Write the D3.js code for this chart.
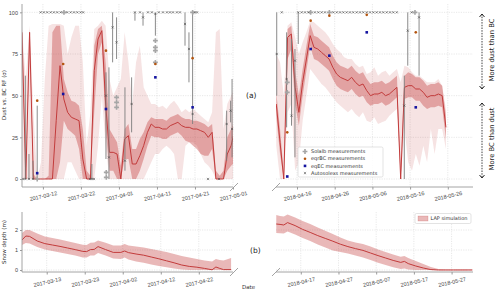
<!DOCTYPE html>
<html>
<head>
<meta charset="utf-8">
<script src="https://cdn.jsdelivr.net/npm/d3@7"></script>
<style>
  body { margin: 0; background: #fff; }
  svg { font-family: "DejaVu Sans", sans-serif; }
  .grid { stroke: #d9d9d9; stroke-width: 0.6; stroke-dasharray: 1.2,1.2; }
  .spine { stroke: #9a9a9a; stroke-width: 0.9; }
  .tick line { stroke: #9a9a9a; }
  .tick text { fill: #444; font-size: 5.5px; }
</style>
</head>
<body>
<svg id="chart" width="500" height="294"></svg>
<script>
// ---- data: LAP simulation, dust vs BC RF (sigma) ----
// 2017: one value per day, 2017-03-06 .. 2017-05-01 (noon)
const leftMedian = [88,0,88,0,0,0,0,0,0,35,68,48,40,37,36,35,12,0,0,65,84,89,45,16,16,15,0,24,26,9,9,14,20,28,33,31,31,30,30,32,33,34,32,31,31,30,30,29,28,25,28,0,0,0,15,20,30];
const leftInnerLo = [75,0,78,0,0,0,0,0,0,0,10,35,30,28,26,18,0,0,0,40,75,82,30,5,5,0,0,12,12,0,0,5,12,20,26,25,25,24,24,26,27,28,26,23,22,20,18,15,14,14,18,0,0,0,5,8,10];
const leftInnerHi = [92,4,90,3,0,0,0,2,88,92,92,60,52,47,46,44,30,5,2,80,90,92,70,30,26,22,8,30,33,18,18,24,28,34,37,36,36,36,35,37,38,39,37,36,36,35,35,34,33,31,33,5,2,5,25,30,35];
const leftOuterLo = [0,0,0,0,0,0,0,0,0,0,0,0,10,10,5,0,0,0,0,0,20,50,20,0,0,0,0,0,0,0,0,0,0,5,10,15,15,18,20,18,15,0,0,20,22,22,20,15,10,8,5,0,0,0,0,0,0];
const leftOuterHi = [90,60,92,40,0,10,60,92,93,93,93,92,75,85,92,92,70,20,40,90,92,95,92,60,50,55,60,88,70,45,70,80,55,50,45,45,43,44,42,45,47,44,40,42,40,42,40,38,36,34,40,88,90,30,45,50,55];

// 2018: one value per day, 2018-04-10 .. 2018-05-25 (noon)
const rightMedian = [45,22,0,85,87,55,40,58,72,86, 79,78,76,74,72,67,63,61,60,59, 61,58,56,57,53,50,51,51,52,50, 51,53,55,0,55,56,56,54,54,52, 49,50,50,51,50,31];
const rightInnerLo = [38,15,0,72,78,45,32,50,65,80, 72,71,69,67,65,60,56,54,53,52, 54,51,49,50,46,44,45,45,46,44, 45,47,49,0,48,49,49,47,47,44, 42,43,43,44,43,24];
const rightInnerHi = [52,30,3,90,92,65,50,66,80,93, 86,85,83,81,79,74,70,68,67,66, 68,65,63,64,60,57,58,58,59,57, 58,60,62,3,62,64,63,61,61,59, 56,57,57,58,56,38];
const rightOuterLo = [20,0,0,40,45,5,10,35,50,66, 63,60,57,55,52,49,46,44,42,40, 42,39,37,40,35,34,37,33,34,35, 38,40,42,0,30,10,5,15,8,20, 10,30,15,30,30,18];
const rightOuterHi = [75,70,50,92,94,85,75,82,88,95, 94,92,90,88,85,81,78,76,73,72, 72,69,67,68,63,64,67,62,64,65, 62,64,66,58,68,67,64,62,62,60, 58,58,58,60,56,42];

// measurements: [time, value, errLo, errHi]
const leftAuto = [
  ['2017-03-06 18:00',0],['2017-03-07 09:00',0,0,62],['2017-03-08 08:00',0,0,15],['2017-03-09 09:00',0,0,11],
  ['2017-03-11 10:00',100],['2017-03-12 06:00',100],['2017-03-13 03:00',100],['2017-03-14 01:00',100],
  ['2017-03-14 21:00',100],['2017-03-15 18:00',100],['2017-03-16 16:00',100],['2017-03-18 09:00',100],
  ['2017-03-19 07:00',100],['2017-03-20 04:00',100],['2017-03-21 01:00',100],['2017-03-21 22:00',100],
  ['2017-03-22 14:00',100],['2017-03-24 09:00',0],['2017-03-24 21:00',0,0,9],['2017-03-25 10:00',0],
  ['2017-03-28 14:00',50,12,64],['2017-03-29 09:00',13,0,67],['2017-03-30 08:00',91,70,100],
  ['2017-03-31 09:00',82,72,97],['2017-04-02 14:00',11,5,55],['2017-04-04 08:00',45,28,61],
  ['2017-04-05 05:00',100,95,100],['2017-04-06 13:00',100],['2017-04-07 08:00',97,92,100],
  ['2017-04-08 15:00',100],['2017-04-09 16:00',100],['2017-04-10 14:00',99,86,100],['2017-04-11 12:00',100],
  ['2017-04-12 14:00',100],['2017-04-13 15:00',100],['2017-04-14 10:00',100],['2017-04-15 05:00',100],
  ['2017-04-16 06:00',100],['2017-04-17 01:00',100],['2017-04-18 09:00',93,80,100],
  ['2017-04-19 10:00',78,58,88],['2017-04-20 09:00',39,33,100],['2017-04-21 00:00',100],
  ['2017-04-21 13:00',100],['2017-04-24 10:00',0],['2017-04-27 08:00',0],
  ['2017-04-29 08:00',33,11,41],['2017-04-30 09:00',41,34,47],['2017-04-30 18:00',30,13,60]
];
const leftSolalb = [
  ['2017-03-10 12:00',0,0,44],['2017-03-17 13:00',100],['2017-03-28 16:00',1],['2017-03-28 16:00',4],
  ['2017-03-31 09:00',49],['2017-03-31 09:00',46],['2017-03-31 09:00',43],
  ['2017-04-10 14:00',83],['2017-04-10 14:00',79],['2017-04-10 14:00',77],['2017-04-10 14:00',70],
  ['2017-04-20 09:00',100]
];
const leftEqrBC = [['2017-03-10 12:00',47],['2017-03-17 08:00',69],['2017-03-28 14:00',77],['2017-04-10 14:00',69],['2017-04-20 09:00',72.5]];
const leftEqEC = [['2017-03-10 12:00',3.5],['2017-03-17 08:00',51],['2017-03-28 14:00',42],['2017-04-10 14:00',61],['2017-04-20 09:00',43]];

const rightAuto = [
  ['2018-04-10 15:00',75,50,100],['2018-04-11 23:00',100],['2018-04-13 06:00',60,31,88],
  ['2018-04-14 13:00',38,32,84],['2018-04-15 11:00',71,13,78],['2018-04-16 08:00',100,81,100],
  ['2018-04-17 06:00',100],['2018-04-18 03:00',100],['2018-04-19 00:00',100],['2018-04-20 18:00',100],
  ['2018-04-21 16:00',100],['2018-04-22 13:00',100],['2018-04-23 10:00',100],['2018-04-25 15:00',100],
  ['2018-04-26 13:00',100],['2018-04-27 10:00',100],['2018-04-28 07:00',100],['2018-04-29 04:00',100],
  ['2018-04-30 01:00',100],['2018-04-30 22:00',100],['2018-05-01 20:00',100],['2018-05-02 17:00',100],
  ['2018-05-03 14:00',100],['2018-05-04 12:00',100],['2018-05-05 09:00',100],['2018-05-06 06:00',100],
  ['2018-05-07 03:00',100],['2018-05-08 00:00',100],['2018-05-08 21:00',100],['2018-05-09 19:00',100],
  ['2018-05-10 16:00',100],['2018-05-11 13:00',100],['2018-05-12 11:00',100],
  ['2018-05-14 11:00',44,0,62],['2018-05-15 09:00',89,68,100],['2018-05-16 10:00',100],
  ['2018-05-18 09:00',97,62,100]
];
const rightSolalb = [['2018-04-13 10:00',58],['2018-04-13 10:00',52],['2018-04-19 15:00',100],['2018-04-24 14:00',100],['2018-05-17 07:00',100]];
const rightEqrBC = [['2018-04-13 10:00',28],['2018-04-19 15:00',95],['2018-04-24 14:00',98],['2018-05-04 12:00',98.5],['2018-05-17 12:00',88]];
const rightEqEC = [['2018-04-13 10:00',1.5],['2018-04-19 15:00',78],['2018-04-24 14:00',74],['2018-05-04 12:00',88],['2018-05-17 12:00',43]];

// snow depth (m)
const snowLeftDates = ['2017-03-06','2017-03-07','2017-03-08','2017-03-10','2017-03-12','2017-03-14','2017-03-16','2017-03-18','2017-03-20','2017-03-22','2017-03-23','2017-03-24','2017-03-25','2017-03-26','2017-03-28','2017-03-30','2017-04-01','2017-04-02','2017-04-03','2017-04-05','2017-04-07','2017-04-09','2017-04-11','2017-04-13','2017-04-15','2017-04-17','2017-04-19','2017-04-21','2017-04-23','2017-04-25','2017-04-26','2017-04-27','2017-04-28','2017-04-30'];
const snowLeftMed = [1.50,1.70,1.68,1.45,1.32,1.25,1.18,1.10,1.02,0.93,0.92,1.02,1.03,1.17,1.02,0.88,0.88,0.95,0.87,0.80,0.74,0.65,0.56,0.46,0.36,0.25,0.18,0.14,0.08,0.01,0.15,0.08,0.02,0.02];
const snowLeftLo = [1.25,1.35,1.33,1.15,1.02,0.95,0.88,0.80,0.72,0.63,0.62,0.72,0.73,0.85,0.72,0.58,0.55,0.62,0.52,0.42,0.36,0.28,0.20,0.14,0.08,0.02,0,0,0,0,0,0,0,0];
const snowLeftHi = [1.85,2.00,2.00,1.82,1.68,1.60,1.52,1.44,1.35,1.26,1.25,1.36,1.37,1.48,1.36,1.22,1.22,1.30,1.22,1.17,1.12,1.05,0.97,0.90,0.80,0.70,0.62,0.55,0.48,0.42,0.55,0.50,0.48,0.60];
const snowRightDates = ['2018-04-10','2018-04-11','2018-04-12','2018-04-13','2018-04-15','2018-04-17','2018-04-19','2018-04-21','2018-04-23','2018-04-25','2018-04-27','2018-04-29','2018-05-01','2018-05-03','2018-05-05','2018-05-07','2018-05-09','2018-05-11','2018-05-13','2018-05-14','2018-05-15','2018-05-17','2018-05-19','2018-05-21','2018-05-23','2018-05-25','2018-05-27','2018-05-29','2018-05-31','2018-06-01'];
const snowRightMed = [2.30,2.28,2.25,2.37,2.22,2.03,1.88,1.72,1.58,1.44,1.29,1.17,1.07,0.98,0.85,0.72,0.60,0.48,0.38,0.43,0.32,0.20,0.10,0.02,0,0,0,0,0,0];
const snowRightLo = [1.85,1.84,1.83,1.92,1.78,1.60,1.45,1.28,1.13,0.98,0.90,0.82,0.72,0.62,0.50,0.36,0.25,0.14,0.05,0.08,0.02,0,0,0,0,0,0,0,0,0];
const snowRightHi = [2.75,2.70,2.67,2.78,2.62,2.45,2.30,2.12,1.96,1.80,1.62,1.48,1.38,1.30,1.18,1.03,0.90,0.78,0.66,0.70,0.60,0.45,0.30,0.15,0.05,0.03,0.03,0.03,0.03,0.03];

const leftTopTicks = ['2017-03-12','2017-03-22','2017-04-01','2017-04-11','2017-04-21','2017-05-01'];
const rightTopTicks = ['2018-04-16','2018-04-26','2018-05-06','2018-05-16','2018-05-26'];
const leftSnowTicks = ['2017-03-13','2017-03-23','2017-04-02','2017-04-12','2017-04-22'];
const rightSnowTicks = ['2018-04-17','2018-04-27','2018-05-07','2018-05-17','2018-05-27'];

// ---- setup ----
const parseDay = d3.timeParse('%Y-%m-%d');
const parseTime = d3.timeParse('%Y-%m-%d %H:%M');
const noon = s => d3.timeHour.offset(parseDay(s), 12);

const leftDays = d3.timeDay.range(parseDay('2017-03-06'), parseDay('2017-05-02')).map(d => d3.timeHour.offset(d, 12));
const rightDays = d3.timeDay.range(parseDay('2018-04-10'), parseDay('2018-05-26')).map(d => d3.timeHour.offset(d, 12));

const xL = d3.scaleTime().domain([parseTime('2017-03-06 12:00'), parseTime('2017-05-01 00:00')]).range([22, 233]);
const xR = d3.scaleTime().domain([parseTime('2018-04-10 10:20'), parseTime('2018-06-01 16:20')]).range([276, 473]);
const yTop = d3.scaleLinear().domain([-4.8, 105]).range([187, 4]);
const ySnow = d3.scaleLinear().domain([-0.1, 2.9]).range([272, 212]);

const red = '#c23b3b';
const svg = d3.select('#chart');
const defs = svg.append('defs');

function clip(id, x, y0, y1) {
  defs.append('clipPath').attr('id', id).append('rect')
    .attr('x', x.range()[0]).attr('y', y0)
    .attr('width', x.range()[1] - x.range()[0]).attr('height', y1 - y0);
  return `url(#${id})`;
}

function bottomAxis(g, x, ticks, yPos, labelOffset) {
  const ax = g.append('g')
    .attr('transform', `translate(0,${yPos})`)
    .call(d3.axisBottom(x).tickValues(ticks.map(parseDay))
      .tickFormat(d3.timeFormat('%Y-%m-%d')).tickSize(2.5).tickSizeOuter(0));
  ax.select('.domain').remove();
  ax.selectAll('.tick text')
    .attr('y', 0).attr('dy', '0.35em')
    .attr('text-anchor', 'middle')
    .attr('transform', `translate(0,${labelOffset}) rotate(-13)`);
}

function breakMark(cx, cy) {
  svg.append('line').attr('class', 'spine')
    .attr('x1', cx - 4).attr('y1', cy + 4).attr('x2', cx + 4).attr('y2', cy - 4);
}

// ---- top panels ----
function drawTop(x, days, med, inLo, inHi, outLo, outHi, meas, clipId, showY) {
  const g = svg.append('g');
  const [x0, x1] = x.range();

  g.selectAll('.hg').data([0, 25, 50, 75, 100]).join('line')
    .attr('class', 'grid')
    .attr('x1', x0).attr('x2', x1)
    .attr('y1', d => yTop(d)).attr('y2', d => yTop(d));
  g.selectAll('.vg').data(meas.ticks.map(parseDay)).join('line')
    .attr('class', 'grid')
    .attr('x1', d => x(d)).attr('x2', d => x(d))
    .attr('y1', yTop.range()[1]).attr('y2', yTop.range()[0]);

  const rows = days.map((d, i) => ({d, m: med[i], il: inLo[i], ih: inHi[i], ol: outLo[i], oh: outHi[i]}));
  const cp = clip(clipId, x, 4, 187);
  const body = g.append('g').attr('clip-path', cp);

  body.append('path').datum(rows)
    .attr('fill', red).attr('fill-opacity', 0.14)
    .attr('d', d3.area().x(r => x(r.d)).y0(r => yTop(r.ol)).y1(r => yTop(r.oh)));
  body.append('path').datum(rows)
    .attr('fill', red).attr('fill-opacity', 0.38)
    .attr('d', d3.area().x(r => x(r.d)).y0(r => yTop(r.il)).y1(r => yTop(r.ih)));
  body.append('path').datum(rows)
    .attr('fill', 'none').attr('stroke', red).attr('stroke-width', 1)
    .attr('d', d3.line().x(r => x(r.d)).y(r => yTop(r.m)));

  // error bars
  const bars = meas.auto.concat(meas.solalb).filter(r => r[2] != null);
  g.selectAll('.eb').data(bars).join('line')
    .attr('stroke', '#7d7d7d').attr('stroke-width', 0.9)
    .attr('x1', r => x(parseTime(r[0]))).attr('x2', r => x(parseTime(r[0])))
    .attr('y1', r => yTop(r[2])).attr('y2', r => yTop(r[3]));

  g.selectAll('.sol').data(meas.solalb).join('path')
    .attr('transform', r => `translate(${x(parseTime(r[0]))},${yTop(r[1])})`)
    .attr('d', d3.symbol(d3.symbolCross).size(13))
    .attr('fill', '#a6a6a6');

  g.selectAll('.aut').data(meas.auto).join('path')
    .attr('transform', r => `translate(${x(parseTime(r[0]))},${yTop(r[1])})`)
    .attr('d', 'M-1.1,-1.1L1.1,1.1M-1.1,1.1L1.1,-1.1')
    .attr('stroke', '#4a4a4a').attr('stroke-width', 0.6);

  g.selectAll('.bc').data(meas.eqrbc).join('circle')
    .attr('cx', r => x(parseTime(r[0]))).attr('cy', r => yTop(r[1]))
    .attr('r', 1.3).attr('fill', '#b4550f');

  g.selectAll('.ec').data(meas.eqec).join('rect')
    .attr('x', r => x(parseTime(r[0])) - 1.3).attr('y', r => yTop(r[1]) - 1.3)
    .attr('width', 2.6).attr('height', 2.6).attr('fill', '#1414a0');

  // spines and axes
  g.append('line').attr('class', 'spine')
    .attr('x1', x0).attr('x2', x1).attr('y1', 187).attr('y2', 187);
  if (showY) {
    g.append('line').attr('class', 'spine')
      .attr('x1', x0).attr('x2', x0).attr('y1', 4).attr('y2', 187);
    const ay = g.append('g').attr('transform', `translate(${x0},0)`)
      .call(d3.axisLeft(yTop).tickValues([0, 25, 50, 75, 100]).tickSize(2).tickPadding(2));
    ay.select('.domain').remove();
  }
  bottomAxis(g, x, meas.ticks, 187, 9);
}

drawTop(xL, leftDays, leftMedian, leftInnerLo, leftInnerHi, leftOuterLo, leftOuterHi,
  {auto: leftAuto, solalb: leftSolalb, eqrbc: leftEqrBC, eqec: leftEqEC, ticks: leftTopTicks}, 'clipTL', true);
drawTop(xR, rightDays, rightMedian, rightInnerLo, rightInnerHi, rightOuterLo, rightOuterHi,
  {auto: rightAuto, solalb: rightSolalb, eqrbc: rightEqrBC, eqec: rightEqEC, ticks: rightTopTicks}, 'clipTR', false);

// ---- snow panels ----
function drawSnow(x, dates, med, lo, hi, ticks, clipId, showY) {
  const g = svg.append('g');
  const [x0, x1] = x.range();
  g.selectAll('.hg').data([0, 1, 2]).join('line')
    .attr('class', 'grid')
    .attr('x1', x0).attr('x2', x1)
    .attr('y1', d => ySnow(d)).attr('y2', d => ySnow(d));
  g.selectAll('.vg').data(ticks.map(parseDay)).join('line')
    .attr('class', 'grid')
    .attr('x1', d => x(d)).attr('x2', d => x(d))
    .attr('y1', 212).attr('y2', 272);

  const rows = dates.map((s, i) => ({d: noon(s), m: med[i], lo: lo[i], hi: hi[i]}));
  const body = g.append('g').attr('clip-path', clip(clipId, x, 212, 272));
  body.append('path').datum(rows)
    .attr('fill', red).attr('fill-opacity', 0.36)
    .attr('d', d3.area().x(r => x(r.d)).y0(r => ySnow(r.lo)).y1(r => ySnow(r.hi)));
  body.append('path').datum(rows)
    .attr('fill', 'none').attr('stroke', red).attr('stroke-width', 1)
    .attr('d', d3.line().x(r => x(r.d)).y(r => ySnow(r.m)));

  g.append('line').attr('class', 'spine')
    .attr('x1', x0).attr('x2', x1).attr('y1', 272).attr('y2', 272);
  if (showY) {
    g.append('line').attr('class', 'spine')
      .attr('x1', x0).attr('x2', x0).attr('y1', 212).attr('y2', 272);
    const ay = g.append('g').attr('transform', `translate(${x0},0)`)
      .call(d3.axisLeft(ySnow).tickValues([0, 1, 2]).tickFormat(d3.format('d')).tickSize(2).tickPadding(2));
    ay.select('.domain').remove();
  }
  bottomAxis(g, x, ticks, 272, 10);
}

drawSnow(xL, snowLeftDates, snowLeftMed, snowLeftLo, snowLeftHi, leftSnowTicks, 'clipBL', true);
drawSnow(xR, snowRightDates, snowRightMed, snowRightLo, snowRightHi, rightSnowTicks, 'clipBR', false);

breakMark(234, 187);
breakMark(276, 187);
breakMark(234, 272);
breakMark(276, 272);

// ---- labels ----
svg.append('text').attr('transform', 'translate(6,95) rotate(-90)')
  .attr('text-anchor', 'middle').attr('font-size', 5.5).attr('fill', '#333')
  .text('Dust vs. BC RF (σ)');
svg.append('text').attr('transform', 'translate(6,242) rotate(-90)')
  .attr('text-anchor', 'middle').attr('font-size', 5.5).attr('fill', '#333')
  .text('Snow depth (m)');
svg.append('text').attr('x', 242).attr('y', 289)
  .attr('font-size', 5.5).attr('fill', '#333').text('Date');
svg.append('text').attr('x', 246).attr('y', 98)
  .attr('font-size', 7.5).attr('fill', '#222').text('(a)');
svg.append('text').attr('x', 250).attr('y', 253)
  .attr('font-size', 7.5).attr('fill', '#222').text('(b)');

// right-hand annotation
function dashedArrow(xp, ya, yb) {
  svg.append('line').attr('x1', xp).attr('x2', xp).attr('y1', ya).attr('y2', yb)
    .attr('stroke', '#111').attr('stroke-width', 0.8).attr('stroke-dasharray', '1.5,1.2');
  [[ya, 1], [yb, -1]].forEach(([yy, s]) => {
    svg.append('path')
      .attr('d', `M${xp - 2.5},${yy + 3 * s}L${xp},${yy}L${xp + 2.5},${yy + 3 * s}`)
      .attr('fill', 'none').attr('stroke', '#111').attr('stroke-width', 0.9);
  });
}
dashedArrow(482, 14, 89);
dashedArrow(482, 103, 178);
svg.append('text').attr('transform', 'translate(494,50) rotate(-90)')
  .attr('text-anchor', 'middle').attr('font-size', 6.8).attr('fill', '#222').text('More dust than BC');
svg.append('text').attr('transform', 'translate(494,139) rotate(-90)')
  .attr('text-anchor', 'middle').attr('font-size', 6.8).attr('fill', '#222').text('More BC than dust');

// legend, top
const leg = svg.append('g').attr('transform', 'translate(298,147)');
leg.append('rect').attr('width', 85).attr('height', 30).attr('rx', 1.5)
  .attr('fill', '#fff').attr('fill-opacity', 0.85).attr('stroke', '#d0d0d0').attr('stroke-width', 0.6);
const legItems = ['Solalb measurements', 'eqrBC measurements', 'eqEC measurements', 'Autosolexs measurements'];
legItems.forEach((t, i) => {
  const yy = 4.5 + i * 7.2;
  const m = leg.append('g').attr('transform', `translate(7,${yy})`);
  if (i === 0) m.append('path').attr('d', d3.symbol(d3.symbolCross).size(13)).attr('fill', '#a6a6a6');
  if (i === 1) m.append('circle').attr('r', 1.3).attr('fill', '#b4550f');
  if (i === 2) m.append('rect').attr('x', -1.3).attr('y', -1.3).attr('width', 2.6).attr('height', 2.6).attr('fill', '#1414a0');
  if (i === 3) m.append('path').attr('d', 'M-1.1,-1.1L1.1,1.1M-1.1,1.1L1.1,-1.1').attr('stroke', '#4a4a4a').attr('stroke-width', 0.6);
  leg.append('text').attr('x', 13).attr('y', yy).attr('dy', '0.35em')
    .attr('font-size', 5).attr('fill', '#333').text(t);
});

// legend, bottom
const leg2 = svg.append('g').attr('transform', 'translate(415,213.5)');
leg2.append('rect').attr('width', 56).attr('height', 10).attr('rx', 1.5)
  .attr('fill', '#fff').attr('stroke', '#d0d0d0').attr('stroke-width', 0.6);
leg2.append('rect').attr('x', 3).attr('y', 2.5).attr('width', 10).attr('height', 5)
  .attr('fill', red).attr('fill-opacity', 0.36).attr('stroke', red).attr('stroke-opacity', 0.4).attr('stroke-width', 0.5);
leg2.append('text').attr('x', 15.5).attr('y', 5).attr('dy', '0.35em')
  .attr('font-size', 5).attr('fill', '#333').text('LAP simulation');
</script>
</body>
</html>
